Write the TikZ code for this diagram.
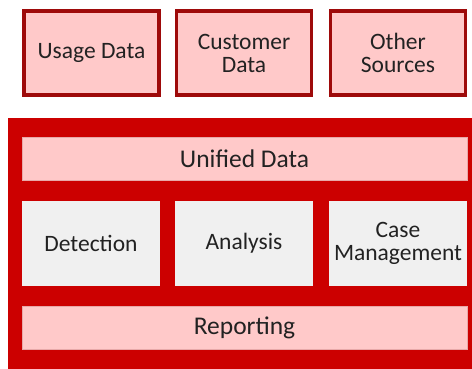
\documentclass[tikz,border=0pt]{standalone}
\usepackage{fontspec}
\setmainfont{Carlito}
\usetikzlibrary{positioning}
\definecolor{srcfill}{HTML}{FFC9C9}
\definecolor{srcline}{HTML}{9E0A0A}
\definecolor{platred}{HTML}{CC0000}
\definecolor{layline}{HTML}{E8A8A8}
\definecolor{modfill}{HTML}{F0F0F0}
\definecolor{ink}{HTML}{222222}

\begin{document}
\begin{tikzpicture}[x=1pt, y=-1pt,
          srcbox/.style={draw=srcline, line width=3.5pt, fill=srcfill, align=center, font=\fontsize{23.5}{23}\selectfont, text=ink, minimum width=135pt, minimum height=84pt, inner sep=0pt},
          layer/.style={draw=layline, line width=0.6pt, fill=srcfill, align=center, font=\fontsize{25.5}{25}\selectfont, text=ink, minimum width=445pt, minimum height=43pt, inner sep=0pt},
          modbox/.style={fill=modfill, align=center, font=\fontsize{23.5}{23}\selectfont, text=ink, minimum width=138pt, minimum height=85pt, inner sep=0pt}]
        \useasboundingbox (0,0) rectangle (472,369);
        % data sources
        \node[srcbox] (usage) at (91.5,53) {Usage Data};
        \node[srcbox] (customer) at (244,53) {Customer\\ Data};
        \node[srcbox] (other) at (398,53) {Other\\ Sources};
        % platform
        \node[fill=platred, minimum width=464pt, minimum height=251pt, inner sep=0pt] (platform) at (240,243.5) {};
        \node[layer] (unified) at (244.5,158.5) {Unified Data};
        \node[modbox] (detect) at (91,243.5) {Detection};
        \node[modbox] (analysis) at (244,243.5) {Analysis};
        \node[modbox] (casemgmt) at (398,243.5) {Case\\ Management};
        \node[layer] (report) at (244.5,327.5) {Reporting};
      \end{tikzpicture}
\end{document}
